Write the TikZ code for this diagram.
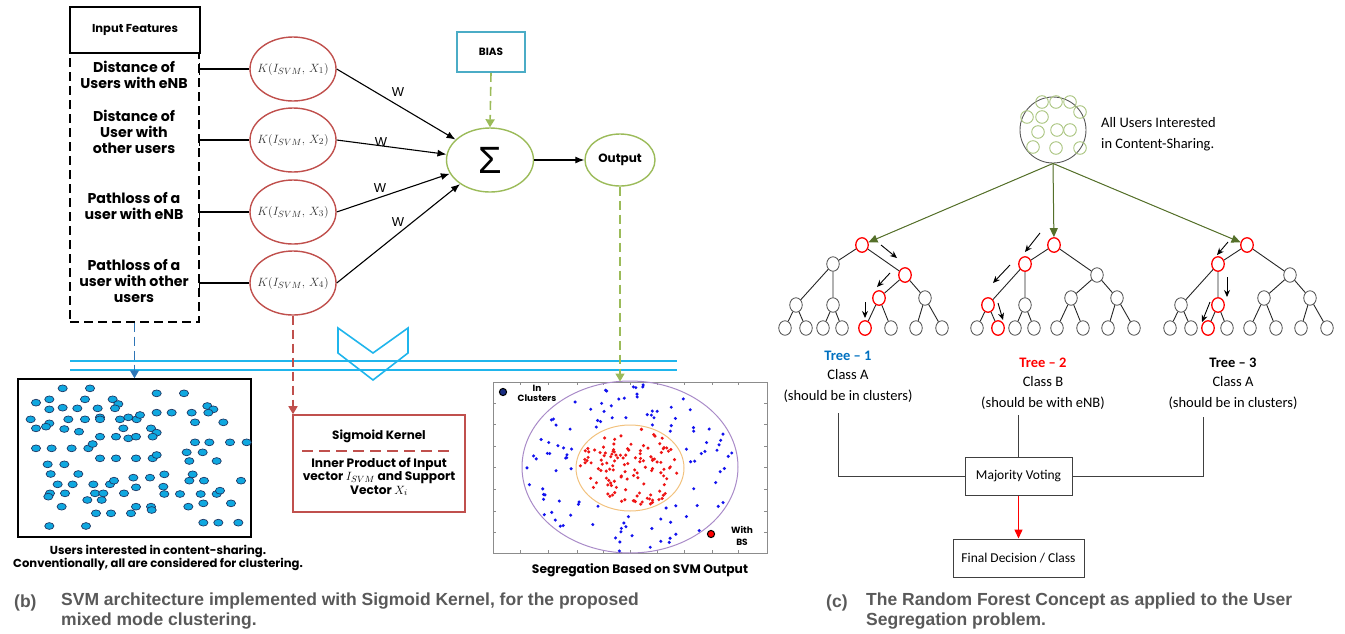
\documentclass[tikz,border=0pt]{standalone}
\usepackage{fontspec}
\setmainfont{Carlito}
\newfontfamily\pop{Poppins}
\newfontfamily\arial{Liberation Sans}
\usetikzlibrary{shapes.geometric,arrows.meta}

\definecolor{kred}{HTML}{C0504D}
\definecolor{kgreen}{HTML}{9BBB59}
\definecolor{biasblue}{HTML}{4BACC6}
\definecolor{lineblue}{HTML}{1FB5EC}
\definecolor{arrowblue}{HTML}{2E75B6}
\definecolor{dotcyan}{HTML}{0FA8E0}
\definecolor{dotedge}{HTML}{1F3864}
\definecolor{olive}{HTML}{55702A}
\definecolor{capgray}{HTML}{595959}
\definecolor{treeblue}{HTML}{0070C0}
\definecolor{ringpurple}{HTML}{A98BC8}
\definecolor{ringorange}{HTML}{F2C27E}
\definecolor{ptblue}{HTML}{1212EE}
\definecolor{ptred}{HTML}{EE1414}
\definecolor{usergreen}{HTML}{A9C47F}

\newcommand\kernlabel[1]{\makebox[0pt][c]{$K(I_{SVM},\,X_{#1})$}}

\tikzset{
  feat/.style={font=\pop\bfseries\fontsize{14.2}{16}\selectfont, align=center, inner sep=0},
  small/.style={font=\pop\bfseries\fontsize{12}{13.5}\selectfont, align=center, inner sep=0},
  kern/.style={ellipse, draw=kred, line width=1.4, minimum width=86, minimum height=64,
    inner sep=0, text=black!80, font=\fontsize{12.5}{13}\selectfont},
  grn/.style={ellipse, draw=kgreen, line width=1.4, inner sep=0},
  warrow/.style={-{Latex[length=9,width=7]}, line width=1.1},
  wlab/.style={font=\arial\fontsize{13}{13}\selectfont, inner sep=0},
  gdash/.style={draw=kgreen, line width=1.6, dash pattern=on 9pt off 5pt, -{Triangle[length=8,width=9]}},
  bdash/.style={draw=arrowblue, line width=1.6, dash pattern=on 9pt off 5pt, -{Triangle[length=8,width=9]}},
  rdash/.style={draw=kred, line width=1.6, dash pattern=on 9pt off 5pt, -{Triangle[length=8,width=9]}},
  udot/.style={fill=dotcyan, draw=dotedge, line width=0.7},
  captext/.style={font=\arial\bfseries\fontsize{17.5}{20}\selectfont, text=capgray, inner sep=0},
  rf/.style={font=\fontsize{14.5}{20.5}\selectfont, inner sep=0, align=center},
  boxtext/.style={font=\fontsize{13.5}{15}\selectfont},
  tnode/.style={ellipse, draw=black!70, line width=0.8, minimum width=12.5, minimum height=14.5, inner sep=0, fill=white},
  tred/.style={draw=red, line width=1.3},
  tedge/.style={draw=black!85, line width=0.9},
  pointer/.style={-{Stealth[length=7,width=6]}, line width=0.9},
  oarrow/.style={draw=olive, line width=1, -{Triangle[length=9,width=8]}, fill=olive},
  vline/.style={draw=black!75, line width=1},
  hl t1r/.style={tred}, hl t1b/.style={tred}, hl t1ba/.style={tred}, hl t1baa/.style={tred},
  hl t2r/.style={tred}, hl t2a/.style={tred}, hl t2aa/.style={tred}, hl t2aab/.style={tred},
  hl t3r/.style={tred}, hl t3a/.style={tred}, hl t3ab/.style={tred}, hl t3aba/.style={tred},
}

% one decision tree of the forest; #1 = name prefix, #2 = x of the root
\newcommand\rftree[2]{%
  \begin{scope}[shift={(#2,0)}]
    \node[tnode, hl #1r/.try]   (#1r)   at (0,245) {};
    \node[tnode, hl #1a/.try]   (#1a)   at (-29,264) {};
    \node[tnode, hl #1b/.try]   (#1b)   at (43,275) {};
    \node[tnode, hl #1aa/.try]  (#1aa)  at (-66,305) {};
    \node[tnode, hl #1ab/.try]  (#1ab)  at (-29,305) {};
    \node[tnode, hl #1ba/.try]  (#1ba)  at (17,298) {};
    \node[tnode, hl #1bb/.try]  (#1bb)  at (63,298) {};
    \node[tnode, hl #1aaa/.try] (#1aaa) at (-77,328) {};
    \node[tnode, hl #1aab/.try] (#1aab) at (-56,328) {};
    \node[tnode, hl #1aba/.try] (#1aba) at (-39,328) {};
    \node[tnode, hl #1abb/.try] (#1abb) at (-20,328) {};
    \node[tnode, hl #1baa/.try] (#1baa) at (3,328) {};
    \node[tnode, hl #1bab/.try] (#1bab) at (29,328) {};
    \node[tnode, hl #1bba/.try] (#1bba) at (54,328) {};
    \node[tnode, hl #1bbb/.try] (#1bbb) at (80,328) {};
    \draw[tedge] (#1r) -- (#1a) (#1r) -- (#1b)
      (#1a) -- (#1aa) (#1a) -- (#1ab) (#1b) -- (#1ba) (#1b) -- (#1bb)
      (#1aa) -- (#1aaa) (#1aa) -- (#1aab) (#1ab) -- (#1aba) (#1ab) -- (#1abb)
      (#1ba) -- (#1baa) (#1ba) -- (#1bab) (#1bb) -- (#1bba) (#1bb) -- (#1bbb);
  \end{scope}}

\begin{document}
\begin{tikzpicture}[x=1pt,y=-1pt]
\useasboundingbox (0,0) rectangle (1345,633);

%% ---------------- SVM architecture ----------------
\node[draw, line width=1.4, dash pattern=on 9pt off 5pt, minimum width=129, minimum height=269, inner sep=0] (fbox) at (134.5,187.5) {};
\node[draw, fill=white, line width=1.4, minimum width=130, minimum height=46, inner sep=0,
      font=\pop\bfseries\fontsize{11.5}{13}\selectfont] (inbox) at (135,30) {Input Features};

\node[feat] (f1) at (134,75)  {Distance of\\Users with eNB};
\node[feat] (f2) at (134,132) {Distance of\\User with\\other users};
\node[feat] (f3) at (134,206) {Pathloss of a\\user with eNB};
\node[feat] (f4) at (134,281) {Pathloss of a\\user with other\\users};

\node[kern] (k1) at (293,69)  {\kernlabel{1}};
\node[kern] (k2) at (293,140) {\kernlabel{2}};
\node[kern] (k3) at (293,212) {\kernlabel{3}};
\node[kern] (k4) at (293,283) {\kernlabel{4}};

\foreach \k in {k1,k2,k3,k4}{
  \draw[line width=1.1] (\k.west -| fbox.east) -- (\k.west);
  \draw[line width=1.1] ([yshift=-6pt]\k.west -| fbox.east) -- ([yshift=6pt]\k.west -| fbox.east);
}

\node[grn, minimum width=87, minimum height=64] (sig) at (490,160) {\arial\fontsize{38}{38}\selectfont Σ};
\node[grn, minimum width=70, minimum height=52, font=\pop\bfseries\fontsize{12}{13}\selectfont] (out) at (620,160) {Output};
\node[draw=biasblue, line width=1.6, minimum width=68, minimum height=40, inner sep=0,
      font=\pop\bfseries\fontsize{10.5}{12}\selectfont] (bias) at (491,52) {BIAS};

\draw[warrow] (k1.east) -- (sig);
\draw[warrow] (k2.east) -- (sig);
\draw[warrow] (k3.east) -- (sig);
\draw[warrow] (k4.east) -- (sig);
\node[wlab] (w1) at (398,92)  {W};
\node[wlab] (w2) at (381,142) {W};
\node[wlab] (w3) at (380,188) {W};
\node[wlab] (w4) at (398,222) {W};
\draw[warrow] (sig) -- (out);
\draw[gdash] (bias.south) -- (sig.north);

% double rule with chevron
\draw[lineblue, line width=1.3] (70,361) -- (677,361) (70,370) -- (677,370);
\draw[lineblue, line width=1.6, line join=miter]
  (338,328) -- (373,353) -- (408,328) -- (408,353) -- (373,380) -- (338,353) -- cycle;

% all users (left scatter)
\node[draw, line width=1.5, minimum width=233, minimum height=158, inner sep=0] (ubox) at (134.5,458) {};
\foreach \x/\y in {188/175,270/175,470/190,552/190,
  108/218,148/208,255/208,338/208,355/222,
  148/238,188/233,232/235,293/235,345/235,622/228,640/238,
  92/268,148/280,205/268,255/268,300/262,300/268,360/268,385/262,410/268,420/255,470/248,515/248,575/248,625/248,
  108/295,138/290,193/297,237/305,370/295,453/295,470/308,585/277,670/277,
  300/320,348/320,385/325,408/320,458/320,585/337,628/337,690/337,740/337,
  108/355,155/355,215/355,265/355,278/342,
  300/385,348/385,408/385,458/385,470/375,560/367,608/367,568/393,650/393,
  143/403,193/403,
  152/432,235/432,400/443,450/443,493/433,578/433,568/452,612/452,723/452,
  173/463,218/463,280/463,330/463,342/452,408/472,490/470,
  150/490,145/500,195/490,285/490,310/490,372/490,493/492,540/492,602/492,650/492,660/482,
  305/510,262/510,185/530,408/530,453/530,455/540,565/530,610/520,693/520,
  288/550,333/550,393/550,
  148/588,258/588,610/578,655/578,715/578}{
  \draw[udot] ({\x/3},{330+\y/3}) ellipse (4.6 and 3.4);
}
\node[small, font=\pop\bfseries\fontsize{11.6}{13.5}\selectfont] (ucap) at (158,558) {Users interested in content-sharing.\\Conventionally, all are considered for clustering.};
\draw[bdash] (fbox.south) -- (ubox.north);

% sigmoid kernel box
\node[draw=kred, line width=1.6, minimum width=172, minimum height=97, inner sep=0] (skbox) at (379,463.5) {};
\node[small] (sktitle) at (379,436) {Sigmoid Kernel};
\draw[kred, line width=1.4, dash pattern=on 11pt off 6pt] (302,451) -- (450,451);
\node[small, font=\pop\bfseries\fontsize{12.2}{13.3}\selectfont] (skbody) at (379,477) {Inner Product of Input\\vector $I_{SVM}$ and Support\\Vector $X_i$};
\draw[rdash] (k4.south) -- (k4.south |- skbox.north);

% segregated users (right scatter)
\node[draw=black!45, line width=1, minimum width=274, minimum height=171, inner sep=0] (sbox) at (630,467.5) {};
\foreach \t in {403,424,446,467,489,511,532}{
  \draw[black!45, line width=0.6] (493,\t) -- (496,\t) (767,\t) -- (764,\t);
}
\foreach \t in {520,548,577,603,630,657,684,712,738}{
  \draw[black!45, line width=0.6] (\t,382) -- (\t,385) (\t,553) -- (\t,550);
}
\draw[ringpurple, line width=1] (630,467) ellipse (108 and 86);
\draw[ringorange, line width=1] (630,468) ellipse (54 and 43);
\pgfmathsetseed{271}
\foreach \i in {1,...,110}{
  \pgfmathsetmacro{\ang}{360*rnd}
  \pgfmathsetmacro{\rr}{sqrt(0.28+0.69*rnd)}
  \fill[ptblue] ({630+108*\rr*cos(\ang)},{467+86*\rr*sin(\ang)}) circle (1.7);
}
\foreach \i in {1,...,125}{
  \pgfmathsetmacro{\ang}{360*rnd}
  \pgfmathsetmacro{\rr}{0.93*sqrt(rnd)}
  \fill[ptred] ({630+54*\rr*cos(\ang)},{468+43*\rr*sin(\ang)}) circle (1.7);
}
\draw[fill=dotedge!80!blue, draw=black, line width=1] (503,392) circle (3.6);
\node[small, font=\pop\bfseries\fontsize{9}{10}\selectfont] (lgin) at (537,393) {In\\Clusters};
\draw[fill=red, draw=black, line width=1] (711,534) circle (3.6);
\node[small, font=\pop\bfseries\fontsize{9}{11.5}\selectfont] (lgbs) at (742,536) {With\\BS};
\node[small, font=\pop\bfseries\fontsize{12.3}{13}\selectfont] (scap) at (640,570) {Segregation Based on SVM Output};
\draw[gdash] (out.south) -- (out.south |- sbox.north);

\node[captext, anchor=base west] (capbl) at (14,607) {(b)};
\node[captext, anchor=north west, align=left] (capb) at (61,593) {SVM architecture implemented with Sigmoid Kernel, for the proposed\\mixed mode clustering.};

%% ---------------- Random forest ----------------
\node[circle, draw=black!65, line width=0.9, minimum size=66, inner sep=0] (users) at (1053,130) {};
\foreach \x/\y in {1042/102,1056/102,1070/102,1080/112,1027/117,1042/117,1038/132,1057/130,1070/130,1033/147,1056/148,1080/148}{
  \draw[usergreen, line width=0.9] (\x,\y) circle (6.3);
}
\node[rf, anchor=west, align=left] (usertxt) at (1101,134) {All Users Interested\\in Content-Sharing.};

\rftree{t1}{862}
\rftree{t2}{1054}
\rftree{t3}{1247}

\draw[oarrow] (users.south) -- (t1r);
\draw[oarrow] (users.south) -- (t2r);
\draw[oarrow] (users.south) -- (t3r);

\draw[pointer] (881,245) -- (897,258);
\draw[pointer] (890,273) -- (877,287);
\draw[pointer] (865,302) -- (865,318);
\draw[pointer] (1040,233) -- (1025,252);
\draw[pointer] (1010,265) -- (993,283);
\draw[pointer] (998,303) -- (1003,320);
\draw[pointer] (1228,242) -- (1217,255);
\draw[pointer] (1227,277) -- (1227,297);
\draw[pointer] (1210,302) -- (1202,322);

\node[rf, font=\bfseries\fontsize{14.5}{20}\selectfont, text=treeblue] (tl1) at (848,356) {Tree – 1};
\node[rf] (cl1) at (848,386) {Class A\\(should be in clusters)};
\node[rf, font=\bfseries\fontsize{14.5}{20}\selectfont, text=red] (tl2) at (1043,363) {Tree – 2};
\node[rf] (cl2) at (1043,393) {Class B\\(should be with eNB)};
\node[rf, font=\bfseries\fontsize{14.5}{20}\selectfont] (tl3) at (1233,363) {Tree – 3};
\node[rf] (cl3) at (1233,393) {Class A\\(should be in clusters)};

\node[draw=black!75, line width=1, minimum width=107, minimum height=38, inner sep=0, boxtext] (vote) at (1018.5,476) {Majority Voting};
\node[draw=black!75, line width=1, minimum width=131, minimum height=38, inner sep=0, boxtext] (final) at (1018.5,558) {Final Decision / Class};

\coordinate (v1) at (838,413);
\coordinate (v2) at (1018.5,415);
\coordinate (v3) at (1203,417);
\draw[vline] (v1) |- (vote.west);
\draw[vline] (v2) -- (vote.north);
\draw[vline] (v3) |- (vote.east);
\draw[red, line width=1.4, -{Triangle[length=9,width=8]}] (vote) -- (final);

\node[captext, anchor=base west] (capcl) at (826,607) {(c)};
\node[captext, anchor=north west, align=left] (capc) at (866,593) {The Random Forest Concept as applied to the User\\Segregation problem.};
\end{tikzpicture}
\end{document}
